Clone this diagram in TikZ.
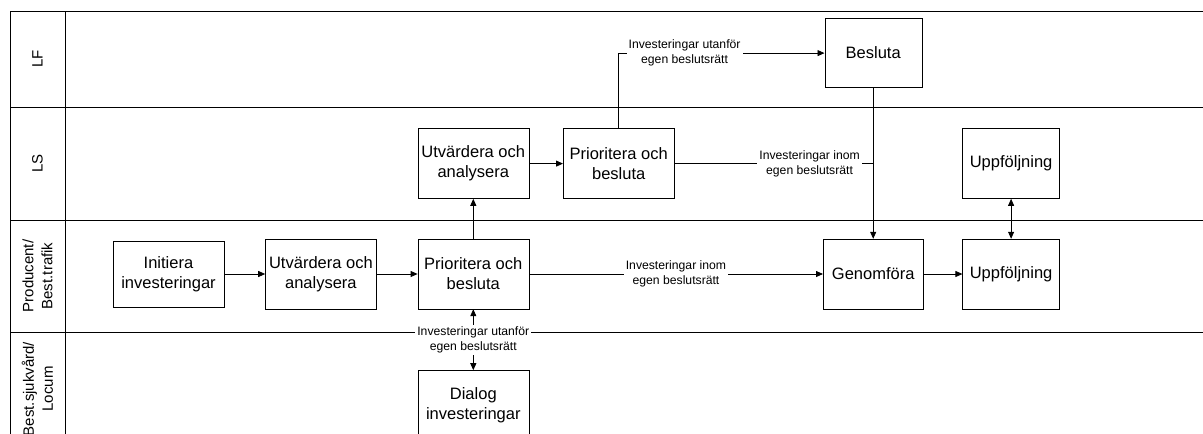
\documentclass[tikz,border=0pt]{standalone}
\usepackage{fontspec}
\setmainfont{Liberation Sans}
\usetikzlibrary{positioning,arrows.meta}

\begin{document}
\begin{tikzpicture}[x=1pt, y=-1pt, node distance=41pt,
    >={Triangle[length=7pt,width=6pt]},
    box/.style={draw, rectangle, align=center, minimum width=111pt, minimum height=70pt, inner sep=1pt, font=\fontsize{16.5}{20}\selectfont},
    lbl/.style={fill=white, align=center, inner sep=2pt, font=\fontsize{12.2}{15}\selectfont},
    lanelbl/.style={rotate=90, align=center, font=\fontsize{15}{19}\selectfont},
    lane/.style={line width=1pt},
    flow/.style={line width=0.8pt}]
    \clip (0,0) rectangle (1203,434);
    % lanes
    \foreach \y in {11,107,220,332}
        \draw[lane] (10,\y) -- (1203,\y);
    \draw[lane] (10,11) -- (10,434);
    \draw[lane] (65,11) -- (65,434);
    \node[lanelbl] (lf) at (37.5,59) {LF};
    \node[lanelbl] (ls) at (37.5,163.5) {LS};
    \node[lanelbl] (prod) at (37.5,276) {Producent/\\Best.trafik};
    \node[lanelbl] (best) at (37.5,389) {Best.sjukvård/\\Locum};

    % steps
    \node[box, minimum height=66pt] (init) at (168.5,274) {Initiera\\investeringar};
    \node[box, right=of init] (utv1) {Utvärdera och\\analysera};
    \node[box, right=of utv1] (prio1) {Prioritera och\\besluta};
    \node[box, above=40pt of prio1] (utv2) {Utvärdera och\\analysera};
    \node[box, right=34pt of utv2] (prio2) {Prioritera och\\besluta};
    \node[box, below=61pt of prio1] (dialog) {Dialog\\investeringar};
    \node[box, minimum width=100pt, right=294pt of prio1] (genom) {Genomföra};
    \node[box, minimum width=97pt, right=39pt of genom] (uppf1) {Uppföljning};
    \node[box, minimum width=97pt, above=40pt of uppf1] (uppf2) {Uppföljning};
    \node[box, minimum width=97pt, minimum height=69pt, above=151pt of genom] (besluta) {Besluta};

    % flows
    \draw[flow,->] (init) -- (utv1);
    \draw[flow,->] (utv1) -- (prio1);
    \draw[flow,->] (prio1) -- (utv2);
    \draw[flow,->] (utv2) -- (prio2);
    \draw[flow,->] (prio1) -- node[lbl] {Investeringar inom\\egen beslutsrätt} (genom);
    \draw[flow,->] (genom) -- (uppf1);
    \draw[flow,<->] (uppf1) -- (uppf2);
    \draw[flow,<->] (prio1) -- node[lbl] {Investeringar utanför\\egen beslutsrätt} (dialog);
    \draw[flow,->] (prio2.north) |- node[lbl, pos=0.66] {Investeringar utanför\\egen beslutsrätt} (besluta);
    \draw[flow,->] (besluta) -- (genom);
    \coordinate (join) at (besluta.south |- prio2.east);
    \draw[flow] (prio2.east) -- node[lbl, pos=0.68] {Investeringar inom\\egen beslutsrätt} (join);
\end{tikzpicture}
\end{document}
